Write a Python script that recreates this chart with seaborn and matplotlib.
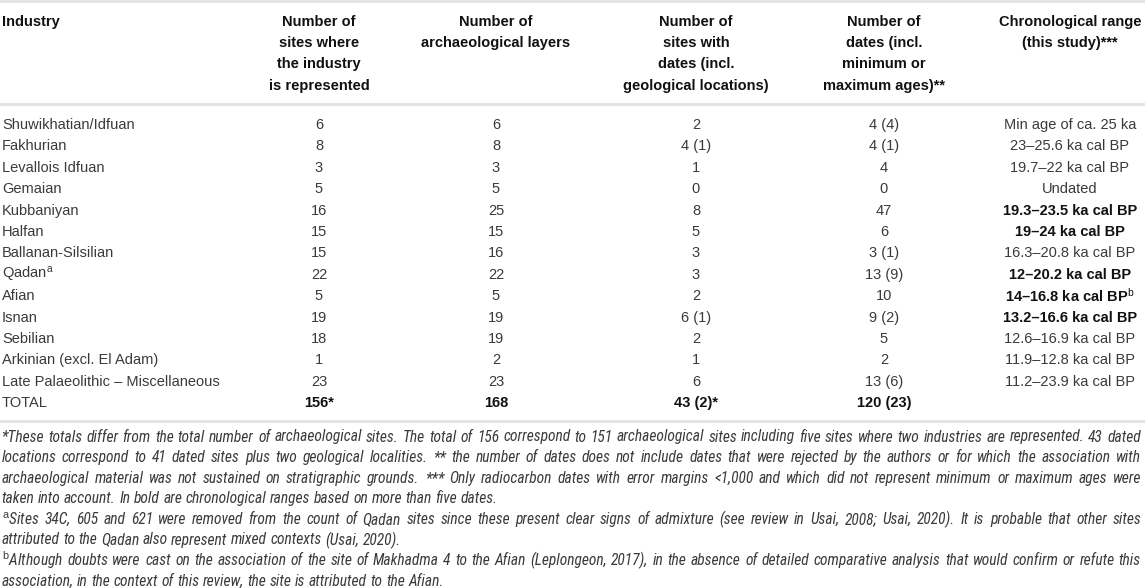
import matplotlib
matplotlib.use("Agg")
import matplotlib.pyplot as plt
import seaborn as sns
from matplotlib import font_manager
from matplotlib.font_manager import FontProperties

# ---------------- data ----------------
industries = ["Shuwikhatian/Idfuan", "Fakhurian", "Levallois Idfuan", "Gemaian",
              "Kubbaniyan", "Halfan", "Ballanan-Silsilian", "Qadan$^{\\mathrm{a}}$",
              "Afian", "Isnan", "Sebilian", "Arkinian (excl. El Adam)",
              "Late Palaeolithic \u2013 Miscellaneous", "TOTAL"]
n_sites = ["6", "8", "3", "5", "16", "15", "15", "22", "5", "19", "18", "1", "23", "156*"]
n_layers = ["6", "8", "3", "5", "25", "15", "16", "22", "5", "19", "19", "2", "23", "168"]
n_dated_sites = ["2", "4 (1)", "1", "0", "8", "5", "3", "3", "2", "6 (1)", "2", "1", "6", "43 (2)*"]
n_dates = ["4 (4)", "4 (1)", "4", "0", "47", "6", "3 (1)", "13 (9)", "10", "9 (2)", "5", "2",
           "13 (6)", "120 (23)"]
chrono = ["Min age of ca. 25 ka", "23\u201325.6 ka cal BP", "19.7\u201322 ka cal BP", "Undated",
          "19.3\u201323.5 ka cal BP", "19\u201324 ka cal BP", "16.3\u201320.8 ka cal BP",
          "12\u201320.2 ka cal BP", "14\u201316.8 ka cal BP$^{\\mathrm{b}}$",
          "13.2\u201316.6 ka cal BP", "12.6\u201316.9 ka cal BP", "11.9\u201312.8 ka cal BP",
          "11.2\u201323.9 ka cal BP", ""]
chrono_bold = [False, False, False, False, True, True, False, True, True, True,
               False, False, False, False]

headers = [["Industry"],
           ["Number of", "sites where", "the industry", "is represented"],
           ["Number of", "archaeological layers"],
           ["Number of", "sites with", "dates (incl.", "geological locations)"],
           ["Number of", "dates (incl.", "minimum or", "maximum ages)**"],
           ["Chronological range", "(this study)***"]]

footnote_paragraphs = [
    ["*These totals differ from the total number of archaeological sites. The total of 156 correspond to 151 archaeological sites including five sites where two industries are represented. 43 dated",
     "locations correspond to 41 dated sites plus two geological localities. ** the number of dates does not include dates that were rejected by the authors or for which the association with",
     "archaeological material was not sustained on stratigraphic grounds. *** Only radiocarbon dates with error margins <1,000 and which did not represent minimum or maximum ages were",
     "taken into account. In bold are chronological ranges based on more than five dates."],
    ["$^{\\mathrm{a}}$Sites 34C, 605 and 621 were removed from the count of Qadan sites since these present clear signs of admixture (see review in Usai, 2008; Usai, 2020). It is probable that other sites",
     "attributed to the Qadan also represent mixed contexts (Usai, 2020)."],
    ["$^{\\mathrm{b}}$Although doubts were cast on the association of the site of Makhadma 4 to the Afian (Leplongeon, 2017), in the absence of detailed comparative analysis that would confirm or refute this",
     "association, in the context of this review, the site is attributed to the Afian."],
]

# ---------------- style ----------------
sns.set_theme(style="white")
names = {f.name for f in font_manager.fontManager.ttflist}
base = "Liberation Sans" if "Liberation Sans" in names else "DejaVu Sans"
plt.rcParams["font.family"] = [base, "DejaVu Sans"]
plt.rcParams["mathtext.fontset"] = "custom"
plt.rcParams["mathtext.rm"] = base
plt.rcParams["mathtext.it"] = base + ":italic"
plt.rcParams["mathtext.bf"] = base + ":bold"


def pick_condensed_italic():
    cands = []
    for f in font_manager.fontManager.ttflist:
        nm = f.name.lower()
        path = f.fname.lower()
        cond = ("narrow" in nm or "condensed" in nm or "narrow" in path or "condensed" in path
                or f.stretch in ("condensed", "semi-condensed", "extra-condensed"))
        if not cond or f.style not in ("italic", "oblique"):
            continue
        if "bold" in path or (isinstance(f.weight, int) and f.weight >= 600) or f.weight in ("bold", "semibold", "demibold"):
            continue
        if "light" in path or "thin" in path or "black" in path or "medium" in path:
            continue
        score = 0
        if "liberation" in nm:
            score = 3
        elif "roboto" in nm:
            score = 2
        elif "open" in nm or "noto" in nm:
            score = 1
        cands.append((score, f.fname))
    if not cands:
        return None
    cands.sort(reverse=True)
    return cands[0][1]


cond_file = pick_condensed_italic()
if cond_file:
    fn_prop = FontProperties(fname=cond_file)
else:
    fn_prop = FontProperties(family=[base], style="italic")

W, H = 1145, 588
fig = plt.figure(figsize=(W / 100, H / 100), dpi=100)
fig.patch.set_facecolor("white")
ax = fig.add_axes([0, 0, 1, 1])
ax.set_xlim(0, W)
ax.set_ylim(H, 0)
ax.axis("off")

FS = 10.5
body_col = "#3a3a3a"
head_col = "#111111"
rule_col = "#e2e2e2"

col_x = [2, 319, 496, 696, 884, 1070]

# rules
for yy in (1.2, 103.5, 421):
    ax.axhline(yy, color=rule_col, lw=2.0, zorder=1)

# header
head_y0, head_dy = 22, 21.2
for ci, lines in enumerate(headers):
    for li, t in enumerate(lines):
        ax.text(col_x[ci], head_y0 + li * head_dy, t, ha="left" if ci == 0 else "center",
                va="center", fontsize=FS, fontweight="bold", color=head_col)

# body
row_y0, row_dy = 125, 21.4
cols = [n_sites, n_layers, n_dated_sites, n_dates]
for i in range(len(industries)):
    y = row_y0 + i * row_dy
    is_total = industries[i] == "TOTAL"
    ax.text(col_x[0], y, industries[i], ha="left", va="center", fontsize=FS, color=body_col)
    for cj, vals in enumerate(cols):
        ax.text(col_x[cj + 1], y, vals[i], ha="center", va="center", fontsize=FS,
                color=head_col if is_total else body_col,
                fontweight="bold" if is_total else "normal")
    if chrono[i]:
        ax.text(col_x[5], y, chrono[i], ha="center", va="center", fontsize=FS,
                color=head_col if chrono_bold[i] else body_col,
                fontweight="bold" if chrono_bold[i] else "normal")

# footnotes (justified, size fitted to the width)
fig.canvas.draw()
renderer = fig.canvas.get_renderer()
x0, x1 = 1.5, 1141
fn_y0, fn_dy = 437, 20.6


def text_width(s, fs):
    p = fn_prop.copy()
    p.set_size(fs)
    t = ax.text(0, 0, s, fontproperties=p)
    bb = t.get_window_extent(renderer)
    t.remove()
    return bb.width


ref_fs = 10.0
fn_fs = 12.0
for para in footnote_paragraphs:
    for line in para[:-1]:
        need = ref_fs * (x1 - x0) / text_width(line, ref_fs)
        fn_fs = min(fn_fs, need)
fn_fs *= 0.985
p_fn = fn_prop.copy()
p_fn.set_size(fn_fs)

space_w = text_width("a a", fn_fs) - 2 * text_width("a", fn_fs)
line_idx = 0
for para in footnote_paragraphs:
    for k, line in enumerate(para):
        y = fn_y0 + line_idx * fn_dy
        words = line.split(" ")
        widths = [text_width(w, fn_fs) for w in words]
        last = k == len(para) - 1
        if last or len(words) < 2:
            gap = space_w
        else:
            gap = (x1 - x0 - sum(widths)) / (len(words) - 1)
        x = x0
        for w, wd in zip(words, widths):
            ax.text(x, y, w, ha="left", va="center", fontproperties=p_fn, color=body_col)
            x += wd + gap
        line_idx += 1

fig.savefig("out.png", dpi=100, facecolor="white")
